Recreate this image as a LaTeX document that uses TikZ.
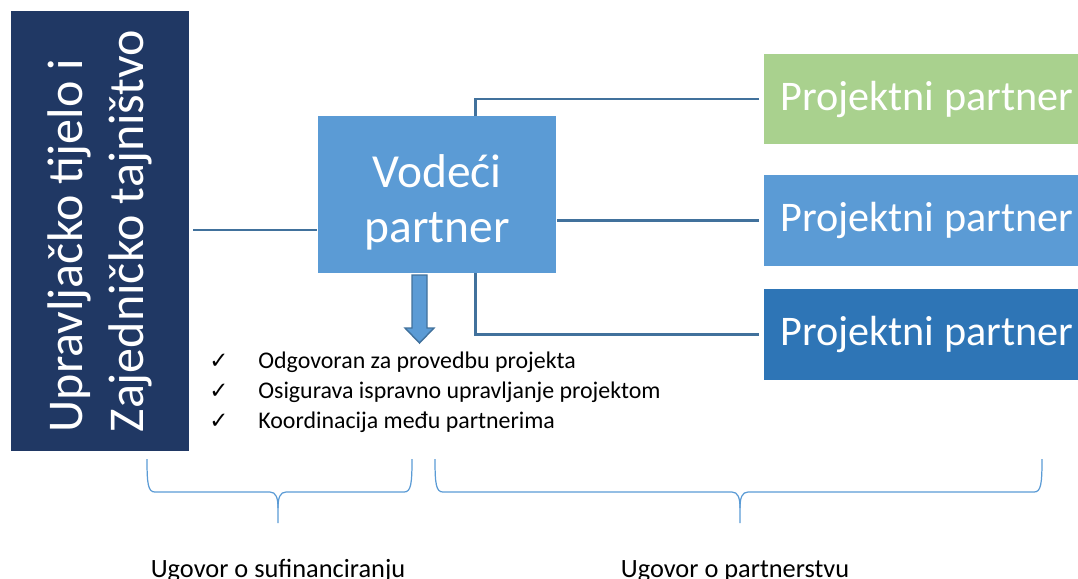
\documentclass[tikz,border=0pt]{standalone}
\usepackage{fontspec}
\setmainfont{Carlito}
\newfontfamily\symfont{DejaVu Sans}
\usetikzlibrary{positioning, backgrounds}

\definecolor{navy}{HTML}{203864}
\definecolor{leadblue}{HTML}{5B9BD5}
\definecolor{partgreen}{HTML}{A9D18E}
\definecolor{partblue}{HTML}{2E75B6}
\definecolor{linkblue}{HTML}{41719C}

\begin{document}
\begin{tikzpicture}[x=0.02cm, y=-0.02cm,
        box/.style={rectangle, inner sep=0pt, text=white, align=center},
        partner/.style={box, minimum width=6.5cm, minimum height=1.82cm, font=\fontsize{24}{29}\selectfont},
        link/.style={draw=linkblue, line width=1.7pt},
        curly/.style={draw=leadblue, line width=0.7pt},
        item/.style={inner sep=0pt, font=\fontsize{13.6}{16.5}\selectfont}]
        \useasboundingbox (0,0) rectangle (1078,578);

        \node (ut) [box, fill=navy, rotate=90, align=left, minimum width=8.8cm, minimum height=3.58cm,
            font=\fontsize{28.5}{34.6}\selectfont] at (100,231) {Upravljačko tijelo i\\Zajedničko tajništvo};
        \node (vp) [box, fill=leadblue, minimum width=4.78cm, minimum height=3.14cm,
            font=\fontsize{27}{31.5}\selectfont] at (437,194.5) {\rule{0pt}{28pt}Vodeći\\partner};
        \node (p1) [partner, fill=partgreen, anchor=west] at (764,99) {Projektni partner};
        \node (p2) [partner, fill=leadblue, below=0.6cm of p1] {Projektni partner};
        \node (p3) [partner, fill=partblue, below=0.44cm of p2] {Projektni partner};

        \coordinate (lk) at (193,230);
        \coordinate (jn) at (475,220);
        \begin{scope}[on background layer]
            \draw [link] (lk) -- (lk -| vp.west);
            \draw [link, shorten <=0.1cm, shorten >=0.1cm] (p1.west) -| (jn) |- (p3.west);
            \draw [link, shorten >=0.1cm] (vp.east |- p2.west) -- (p2.west);
        \end{scope}

        % strelica prema zadacima
        \filldraw [fill=leadblue, draw=linkblue, line width=0.8pt]
            (412,275) -- (427,275) -- (427,328) -- (434,328) -- (419.5,343) -- (405,328) -- (412,328) -- cycle;

        \foreach \txt [count=\i] in {Odgovoran za provedbu projekta, Osigurava ispravno upravljanje projektom, Koordinacija među partnerima} {
            \node (item\i) [item, anchor=base west] at (258,338+30*\i) {\txt};
            \node (check\i) [item, anchor=base, font=\symfont\fontsize{13}{16}\selectfont] at (219,338+30*\i) {✓};
        }

        % vitičaste zagrade ugovora
        \foreach \bl/\br/\bm in {147/412/278, 435/1042/740} {
            \draw [curly] (\bl,459) .. controls (\bl,484) and (\bl+1,492) .. (\bl+8,492) -- (\bm-8,492)
                .. controls (\bm-2,492) and (\bm,498) .. (\bm,508) -- (\bm,523);
            \draw [curly] (\br,459) .. controls (\br,484) and (\br-1,492) .. (\br-8,492) -- (\bm+8,492)
                .. controls (\bm+2,492) and (\bm,498) .. (\bm,508);
        }
        \node (cofin) [anchor=base, font=\fontsize{15}{18}\selectfont] at (278,577) {Ugovor o sufinanciranju};
        \node (partn) [anchor=base, font=\fontsize{15}{18}\selectfont] at (735,577) {Ugovor o partnerstvu};
    \end{tikzpicture}
\end{document}
